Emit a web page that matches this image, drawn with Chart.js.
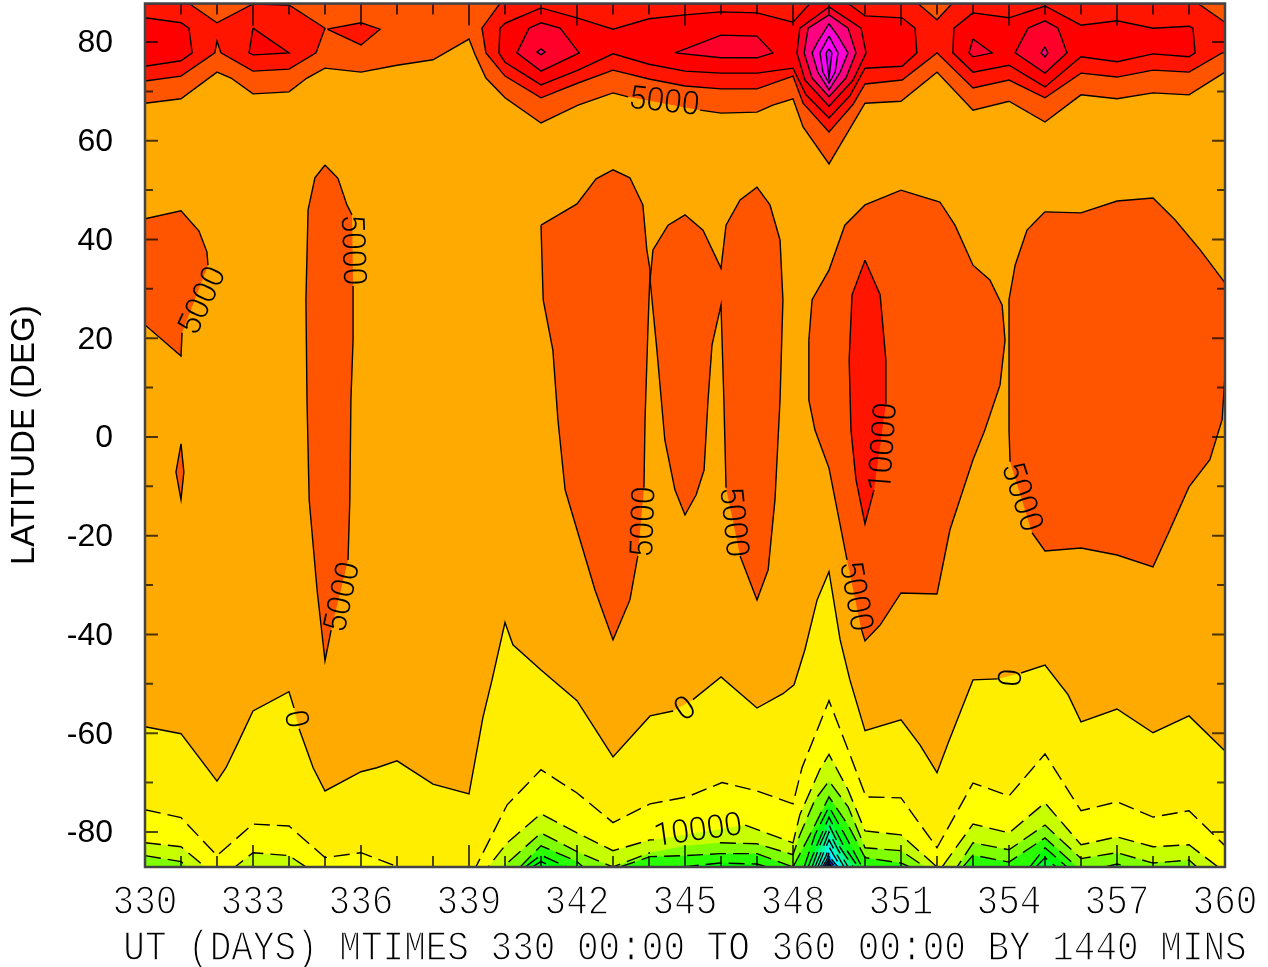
<!DOCTYPE html>
<html lang="en">
<head>
  <title>Latitude vs UT contour</title>
  <meta charset="utf-8">
  <script src="https://cdn.jsdelivr.net/npm/chart.js"></script>
  <style>
    html, body { margin: 0; padding: 0; background: #fff; }
    canvas { display: block; }
  </style>
</head>
<body>
<canvas id="contour-chart" width="1268" height="967"></canvas>
<script>
  // axis values
  const dayMin = 330, dayMax = 360, latMin = -87.1, latMax = 87.8;
  const dayLabels = [330, 333, 336, 339, 342, 345, 348, 351, 354, 357, 360];
  const latLabels = [80, 60, 40, 20, 0, -20, -40, -60, -80];
  const latTicks = [-80, -70, -60, -50, -40, -30, -20, -10, 0, 10, 20, 30, 40, 50, 60, 70, 80];
  const caption = 'UT (DAYS) MTIMES 330 00:00 TO 360 00:00 BY 1440 MINS';
  const latTitle = 'LATITUDE (DEG)';

  // contours, [day, latitude]
  const plotBox = [[330,87.8],[360,87.8],[360,-87.1],[330,-87.1]];
  const north5000 = [[330,67.6],[331,68.5],[332,73.9],[332.39,72.7],[333,69.5],[334,69.9],[334.5,72.7],[335,74.7],[336,73.9],[337,75.3],[338,76.4],[339,80.6],[339.17,77.4],[339.47,72.7],[340,68.7],[341,63.6],[342.03,67.2],[343,69.7],[343.42,68.9],[345.42,66.2],[346,65.6],[347,65.8],[347.44,67.2],[348,68.5],[348.28,62.8],[349,55.3],[350,67.6],[351,68],[352,73.9],[353,66.2],[354,68],[355,63.8],[356,69.3],[357,68.5],[358,69.7],[359,69.3],[360,73.9],[360,87.8],[330,87.8]];
  const redWest = [[330,72.1],[331,73.1],[331.94,77.8],[332,80.2],[332.11,77.8],[333,74.1],[334,74.5],[334.75,77.8],[335,82.8],[334,87.5],[333,87.7],[332,83.9],[331.22,87.8],[330,87.8]];
  const redSpot = [[335.06,82.6],[336,83.9],[336.53,82.6],[336,79.4]];
  const redMid = [[339.86,87.8],[339.36,82.8],[339.47,77.8],[340,73.1],[341,68.7],[342.03,71.7],[343,74.3],[344,72.5],[345,71.1],[346,70.5],[347,70.5],[348,73.1],[348.28,67.6],[349,61.8],[349.67,67.4],[350,71.5],[351.03,72.3],[352,77.8],[353,70.7],[354,72.3],[355,68.7],[356,73.7],[357,72.9],[358,74.3],[359,73.9],[359.92,77.8],[360,77.8],[360,84],[359.25,87.8],[352.42,87.8],[352,84.5],[351.47,87.8]];
  const deepWest = [[330,84.9],[331,83.9],[331.22,82.8],[331.31,77.8],[331,76.2],[330,75.1]];
  const deepTri = [[333,82.8],[334,77.8],[333,77.4],[332.89,77.8]];
  const deepMid = [[340,83.8],[341,86.9],[342,84.9],[343,82.6],[344,84.7],[345,85.5],[346,86.1],[347,85.9],[348,84],[348.47,87.8],[349.53,87.8],[350,85.3],[351.03,84.9],[351.39,82.8],[351.44,77.8],[351.03,75.1],[350,74.7],[349.58,69.1],[349,64.6],[348.36,69.3],[348,74.7],[347,73.7],[346,73.7],[345,74.1],[344,75.5],[343,77.6],[342.03,74.3],[341,71.3],[340,75.9],[339.83,77.8],[339.86,82.8]];
  const deepEast = [[353,85.9],[354,84.9],[355,87.3],[356,83.4],[357,84.3],[358,82.8],[359,83.2],[359.11,82.8],[359.17,77.8],[359,77],[358,77.6],[357,76],[356,77],[355,70.9],[354,75.3],[353,73.9],[352.44,77.8],[352.47,82.8]];
  const crimsonA = [[340.67,82.8],[341,83.9],[341.53,82.8],[342.06,77.8],[341,74.1],[340.33,77.8]];
  const crimsonB = [[344.72,77.8],[346,81.4],[347,81.2],[347.44,77.8],[347,76.8],[346,76.8]];
  const crimsonC = [[353,80.6],[353.53,77.8],[353,77],[352.89,77.8]];
  const crimsonD = [[354.53,82.8],[355,84.3],[355.36,82.8],[355.61,77.8],[355,73.7],[354.17,77.8]];
  const pinkA = [[341,78.6],[341.11,78],[341,77.4],[340.89,78]];
  const pinkD = [[355,79],[355.08,77.8],[355,77],[354.89,77.8]];
  const peakN1 = [[349,87.1],[349.89,82.8],[350.03,77.8],[349.67,72.3],[349,67],[348.33,72.3],[348.11,77.8],[348.19,82.8]];
  const peakN2 = [[349,85.5],[349.53,82.8],[349.75,77.8],[349.47,72.7],[349,68.9],[348.53,72.7],[348.31,77.8],[348.42,82.8]];
  const peakN3 = [[349,83.7],[349.25,81.2],[349.53,77.8],[349.31,73.9],[349,70.3],[348.69,73.9],[348.53,77.8],[348.67,79.8]];
  const peakN4 = [[349,81.2],[349.25,77.8],[349.17,73.9],[349,71.7],[348.83,73.9],[348.75,77.8]];
  const peakN5 = [[349,78.6],[349.08,77.8],[349,72.7],[348.92,77.8]];

  const blobWest = [[330,44.2],[331,45.8],[331.5,41.7],[331.72,37.5],[331.75,34.8],[331.03,21.1],[331,16.4],[330,22.7]];
  const sliver = [[331,-1.4],[331.08,-7.1],[331,-12.7],[330.86,-7.1]];
  const blob336 = [[335,55.1],[335.36,52.4],[335.61,47],[335.75,45],[335.78,30.6],[335.78,19.7],[335.72,7.5],[335.69,-12.7],[335.64,-24.9],[335.17,-39.1],[335,-45.3],[334.78,-31],[334.56,-12.7],[334.5,7.5],[334.47,27.8],[334.53,46],[334.72,52.5]];
  const blob342 = [[341,42.9],[342,47.2],[342.53,52.3],[343,54.1],[343.47,52.5],[343.83,47],[343.94,37.9],[344.03,33.8],[343.97,21.7],[343.89,3.5],[343.86,-10.3],[343.69,-24.1],[343.47,-33],[343,-41.1],[342.5,-31],[342,-18.8],[341.67,-10.7],[341.47,3.5],[341.33,17.6],[341.06,27.8]];
  const blob345 = [[344.03,31.8],[344.11,37.9],[344.53,42.9],[345,45],[345.5,41.9],[346,34.2],[346.14,42.9],[346.53,48],[347,50.6],[347.36,47],[347.64,39.9],[347.72,27.8],[347.64,7.5],[347.5,-12.7],[347.31,-26.9],[347,-33],[346.53,-24.1],[346.14,-10.3],[346.08,7.5],[346,26.7],[345.75,18.6],[345.64,7.5],[345.53,-6.7],[345.31,-11.7],[345,-15.8],[344.72,-10.7],[344.44,-0.6],[344.22,17.6]];
  const blob350 = [[348.44,19.6],[348.53,27.8],[349,33.8],[349.44,42.9],[350,47],[351,50],[352.08,47.6],[352.5,42.9],[353,34.8],[353.47,31.8],[353.81,26.7],[353.89,19.6],[353.75,10.5],[353.33,1.4],[353,-4.6],[352.36,-18.8],[352,-31.8],[351,-31.6],[350.42,-38.1],[350,-41.3],[349.89,-38.7],[349.5,-24.9],[349,-6.3],[348.61,1.4],[348.44,7.5]];
  const core350 = [[350,35.8],[350.42,28.8],[350.58,15.6],[350.58,6.7],[350.25,-10.7],[350,-17.6],[349.75,-8.7],[349.61,1.4],[349.56,15.6],[349.64,28.8]];
  const blob356 = [[355,45.6],[356,45.4],[357,47.8],[358,48.4],[358.61,44],[359.31,37.9],[360,31.2],[360,12.6],[359.92,3.5],[359.58,-4.6],[359,-10.1],[358.47,-18.8],[358,-26.3],[357,-23.9],[356,-22.5],[355,-23.1],[354.64,-19.4],[354.03,-5],[354,1.4],[354,27.8],[354.17,34.8],[354.5,41.9]];

  const south0 = [[330,-58.7],[331,-60.1],[332,-69.7],[332.25,-67],[332.58,-62],[333,-55.5],[334,-51.6],[334.14,-54.9],[334.28,-59.1],[334.36,-60.7],[334.67,-67],[335,-71.7],[336,-67.8],[336.44,-67],[337,-65.6],[338,-70.3],[339,-72.3],[339.39,-56.7],[339.64,-49.2],[340,-37.6],[340.22,-42.1],[341,-47.2],[342,-53.4],[343,-64.8],[344.03,-56.5],[344.67,-55.5],[345.22,-53.2],[346,-48.6],[347,-54.9],[347.72,-52],[348.03,-50.2],[348.33,-43.1],[348.67,-33],[349,-27.3],[349.31,-41.1],[349.58,-49.2],[350,-59.5],[351,-57.3],[351.53,-62.4],[352,-68],[352.31,-62],[353,-49.2],[353.69,-49],[354.33,-47.8],[355,-46.2],[355.64,-52.2],[356,-57.7],[357,-55.1],[358,-59.9],[359,-56.5],[360,-63.6],[360,-87.1],[330,-87.1]];
  const southA = [[330,-75.5],[331,-77.1],[332,-84.8],[333,-78.4],[334,-78.8],[335,-85.2],[336,-84.2],[337.03,-87.1],[339.19,-87.1],[340.06,-74.5],[341,-67.4],[342,-72.1],[343,-78.1],[344.03,-74.3],[345.06,-72.9],[346.03,-70],[347,-71.7],[348,-74.3],[348.25,-67],[349,-53.4],[349.5,-62.8],[350.03,-72.9],[351,-73.1],[352,-83.2],[353,-70.1],[354,-72.7],[355,-64.2],[356,-75.7],[357,-73.9],[358,-77],[359,-75.7],[360,-82.8],[360,-87.1],[330,-87.1]];
  const southB = [[330,-82.2],[331,-83],[331.67,-87.1],[332.5,-87.1],[333,-84.2],[334,-84.8],[334.47,-87.1],[339.53,-87.1],[340.06,-82.2],[341,-76.3],[342,-80.2],[343,-83.8],[344.03,-81.6],[344.14,-81.6],[346.67,-78.6],[348,-82.2],[348.19,-76.5],[348.75,-67.3],[349,-64.3],[349.53,-71.5],[350,-79.8],[351,-80.6],[352,-87.1],[352.14,-87.1],[353,-78.4],[354,-80.2],[355,-74.1],[356,-82.6],[357,-81],[358,-83],[359,-82.6],[359.81,-87.1],[330,-87.1]];
  const southC = [[330,-84.8],[331,-86],[331.17,-87.1],[339.94,-87.1],[341,-80.2],[342,-84],[343,-87.1],[344.03,-84.2],[345,-82.8],[345.97,-82.2],[347,-82.4],[348,-84.6],[348.19,-80.6],[348.61,-73.5],[349,-69.7],[349.53,-74.9],[350,-83.2],[351,-83.8],[351.67,-87.1],[352.56,-87.1],[353,-82.2],[354,-83.6],[355,-78.6],[356,-85.4],[357,-84.2],[358,-86.3],[359,-85.7],[359.22,-87.1],[330,-87.1]];
  const southD1 = [[340.42,-87.1],[341,-82.8],[342,-86],[342.17,-87.1]];
  const southD2 = [[343.19,-87.1],[344.03,-85],[345,-84.8],[345.97,-84.4],[347,-84.4],[348,-87.1]];
  const southD3 = [[352.72,-87.1],[353,-84.7],[354,-86.1],[355,-81.2],[355.89,-87.1]];
  const southD4 = [[356.67,-87.1],[357,-86.5],[357.36,-87.1]];
  const southE1 = [[340.56,-87.1],[341,-84.7],[341.72,-87.1]];
  const southE2 = [[344.94,-87.1],[345.97,-86.3],[347,-86.5],[347.28,-87.1]];
  const southE3 = [[354.58,-87.1],[355,-83.2],[355.61,-87.1]];
  const southF1 = [[340.75,-87.1],[341,-86],[341.33,-87.1]];
  const southF3 = [[354.75,-87.1],[355,-85.2],[355.31,-87.1]];
  const peakS1 = [[348,-87.1],[348.47,-80.6],[349,-72.9],[349.53,-78.6],[350,-85.2],[351,-86.3],[351.25,-87.1]];
  const peakS2 = [[348.31,-87.1],[348.61,-80.6],[349,-74.9],[349.44,-80.6],[349.92,-87.1]];
  const peakS3 = [[348.42,-87.1],[348.67,-82.6],[349,-77],[349.39,-82.6],[349.81,-87.1]];
  const peakS4 = [[348.53,-87.1],[348.75,-82.6],[349,-78.6],[349.31,-83.2],[349.67,-87.1]];
  const peakS5 = [[348.61,-87.1],[348.81,-83.6],[349,-80],[349.25,-83.6],[349.53,-87.1]];
  const peakS6 = [[348.69,-87.1],[348.86,-84],[349,-81.6],[349.19,-84.2],[349.42,-87.1]];
  const peakS7 = [[348.76,-87.1],[348.92,-84.8],[349,-83],[349.14,-84.8],[349.33,-87.1]];
  const peakS8 = [[348.81,-87.1],[348.94,-85.6],[349,-84.2],[349.08,-85.6],[349.25,-87.1]];
  const peakS9 = [[348.86,-87.1],[349,-85.6],[349.17,-87.1]];
  const peakS10 = [[348.92,-87.1],[349,-86.3],[349.1,-87.1]];

  // contour labels sit on the lines, angle in degrees clockwise
  const contourLabels = [
    { day: 344.42, lat: 68.0, text: '5000', angle: 6 },
    { day: 331.58, lat: 27.6, text: '5000', angle: -65 },
    { day: 335.78, lat: 37.9, text: '5000', angle: 88 },
    { day: 335.47, lat: -32.4, text: '5000', angle: -78 },
    { day: 343.84, lat: -17.2, text: '5000', angle: -88 },
    { day: 346.36, lat: -17.2, text: '5000', angle: 84 },
    { day: 349.75, lat: -32.2, text: '5000', angle: 80 },
    { day: 350.5, lat: -2.0, text: '10000', angle: -86 },
    { day: 354.36, lat: -12.1, text: '5000', angle: 72 },
    { day: 334.2, lat: -57.1, text: '0', angle: 80 },
    { day: 345.0, lat: -55.0, text: '0', angle: -35 },
    { day: 354.05, lat: -48.8, text: '0', angle: -85 },
    { day: 345.36, lat: -79.6, text: '10000', angle: -8 }
  ];

  // painter's order, bottom layer first
  const layers = [
    { points: plotBox, color: '#FFAA00', outline: false },
    { points: north5000, color: '#FF5500' },
    { points: redWest, color: '#FF1500' },
    { points: redSpot, color: '#FF1500' },
    { points: redMid, color: '#FF1500' },
    { points: deepWest, color: '#FF0000' },
    { points: deepTri, color: '#FF0000' },
    { points: deepMid, color: '#FF0000' },
    { points: deepEast, color: '#FF0000' },
    { points: crimsonA, color: '#FF002B' },
    { points: crimsonB, color: '#FF002B' },
    { points: crimsonC, color: '#FF002B' },
    { points: crimsonD, color: '#FF002B' },
    { points: pinkA, color: '#FF0080' },
    { points: pinkD, color: '#FF0080' },
    { points: peakN1, color: '#FF002B' },
    { points: peakN2, color: '#FF0080' },
    { points: peakN3, color: '#FF00D5' },
    { points: peakN4, color: '#FF00FF' },
    { points: peakN5, color: '#D500FF' },
    { points: blobWest, color: '#FF5500' },
    { points: sliver, color: '#FF5500' },
    { points: blob336, color: '#FF5500' },
    { points: blob342, color: '#FF5500' },
    { points: blob345, color: '#FF5500' },
    { points: blob350, color: '#FF5500' },
    { points: core350, color: '#FF1500' },
    { points: blob356, color: '#FF5500' },
    { points: south0, color: '#FFEE00' },
    { points: southA, color: '#FFFF00', dashed: true },
    { points: southB, color: '#C8FF00', dashed: true },
    { points: southC, color: '#7FFF00', dashed: true },
    { points: southD1, color: '#2AFF00', dashed: true },
    { points: southD2, color: '#2AFF00', dashed: true },
    { points: southD3, color: '#2AFF00', dashed: true },
    { points: southD4, color: '#2AFF00', dashed: true },
    { points: southE1, color: '#00FF00', dashed: true },
    { points: southE2, color: '#00FF00', dashed: true },
    { points: southE3, color: '#00FF00', dashed: true },
    { points: southF1, color: '#00FF2B', dashed: true },
    { points: southF3, color: '#00FF2B', dashed: true },
    { points: peakS1, color: '#2AFF00', dashed: true },
    { points: peakS2, color: '#00FF15', dashed: true },
    { points: peakS3, color: '#00FF40', dashed: true },
    { points: peakS4, color: '#00FF80', dashed: true },
    { points: peakS5, color: '#00FFAA', dashed: true },
    { points: peakS6, color: '#00FFD5', dashed: true },
    { points: peakS7, color: '#00FFFF', dashed: true },
    { points: peakS8, color: '#0095FF', dashed: true },
    { points: peakS9, color: '#0030FF', dashed: true },
    { points: peakS10, color: '#000080', dashed: true }
  ];

  const labelFont = '300 32px Roboto, "Liberation Sans", sans-serif';
  const monoFont = '30px "Liberation Mono", monospace';

  const closed = (pairs) => [...pairs, pairs[0]].map(([x, y]) => ({ x, y }));

  // a line stops where a contour label sits on it
  const underLabel = (ctx) => {
    const { x: xScale, y: yScale } = ctx.chart.scales;
    const mx = (ctx.p0.x + ctx.p1.x) / 2;
    const my = (ctx.p0.y + ctx.p1.y) / 2;
    return contourLabels.some((l) => {
      const a = l.angle * Math.PI / 180;
      const dx = mx - xScale.getPixelForValue(l.day);
      const dy = my - yScale.getPixelForValue(l.lat);
      const u = dx * Math.cos(a) + dy * Math.sin(a);
      const v = -dx * Math.sin(a) + dy * Math.cos(a);
      return Math.abs(u) < l.text.length * 7 && Math.abs(v) < 15;
    });
  };

  const datasets = [];
  layers.forEach((layer, i) => {
    datasets.push({
      data: closed(layer.points),
      fill: 'shape',
      backgroundColor: layer.color,
      borderWidth: 0,
      borderColor: 'rgba(0,0,0,0)',
      pointRadius: 0,
      order: 2000 - i
    });
    if (layer.outline !== false) {
      datasets.push({
        data: closed(layer.points),
        fill: false,
        borderColor: '#000',
        borderWidth: 1.4,
        borderDash: layer.dashed ? [16, 7] : [],
        pointRadius: 0,
        order: 1000 - i,
        segment: { borderColor: (ctx) => underLabel(ctx) ? 'rgba(0,0,0,0)' : undefined }
      });
    }
  });

  const plotFurniture = {
    id: 'plotFurniture',
    afterDatasetsDraw(chart) {
      const { ctx, chartArea: { left, right, top, bottom }, scales: { x, y } } = chart;
      ctx.save();

      // contour labels
      ctx.fillStyle = '#000';
      ctx.font = labelFont;
      ctx.textAlign = 'center';
      ctx.textBaseline = 'middle';
      contourLabels.forEach((l) => {
        ctx.save();
        ctx.translate(x.getPixelForValue(l.day), y.getPixelForValue(l.lat));
        ctx.rotate(l.angle * Math.PI / 180);
        ctx.fillText(l.text, 0, 2);
        ctx.restore();
      });

      // ticks point inwards on all four sides
      ctx.strokeStyle = 'rgba(0,0,0,0.7)';
      ctx.lineWidth = 2;
      ctx.beginPath();
      x.ticks.forEach((t) => {
        const px = x.getPixelForValue(t.value);
        const len = dayLabels.includes(t.value) ? 22 : 11;
        ctx.moveTo(px, top); ctx.lineTo(px, top + len);
        ctx.moveTo(px, bottom); ctx.lineTo(px, bottom - len);
      });
      y.ticks.forEach((t) => {
        const py = y.getPixelForValue(t.value);
        const len = latLabels.includes(t.value) ? 13 : 8;
        ctx.moveTo(left, py); ctx.lineTo(left + len, py);
        ctx.moveTo(right, py); ctx.lineTo(right - len, py);
      });
      ctx.stroke();

      ctx.strokeStyle = '#444';
      ctx.lineWidth = 2.5;
      ctx.strokeRect(left, top, right - left, bottom - top);
      ctx.restore();
    },
    afterDraw(chart) {
      const { ctx, scales: { x } } = chart;
      // the stroke font is tall and narrow, so the mono face gets stretched,
      // then a white stroke thins the glyphs down
      const stretched = (text, px, baseline) => {
        ctx.save();
        ctx.translate(px, baseline);
        ctx.scale(1.2, 1.4);
        ctx.fillText(text, 0, 0);
        ctx.strokeText(text, 0, 0);
        ctx.restore();
      };
      ctx.save();
      ctx.fillStyle = '#000';
      ctx.strokeStyle = '#fff';
      ctx.lineWidth = 1.0;
      ctx.font = monoFont;
      ctx.textAlign = 'center';
      ctx.textBaseline = 'alphabetic';
      x.ticks.forEach((t) => {
        if (dayLabels.includes(t.value)) stretched(String(t.value), x.getPixelForValue(t.value), 914);
      });
      stretched(caption, 685, 960);
      ctx.restore();
    }
  };

  new Chart(document.getElementById('contour-chart'), {
    type: 'line',
    data: { datasets },
    options: {
      responsive: false,
      animation: false,
      events: [],
      layout: { padding: { top: 3.5, right: 43, left: 0, bottom: 0 } },
      plugins: { legend: { display: false }, tooltip: { enabled: false } },
      scales: {
        x: {
          type: 'linear',
          min: dayMin,
          max: dayMax,
          grid: { display: false },
          border: { display: false },
          ticks: { stepSize: 1, autoSkip: false, maxRotation: 0, display: false },
          afterFit: (scale) => { scale.height = 100; }
        },
        y: {
          min: latMin,
          max: latMax,
          grid: { display: false },
          border: { display: false },
          afterBuildTicks: (scale) => { scale.ticks = latTicks.map((value) => ({ value })); },
          afterFit: (scale) => { scale.width = 145; scale.paddingTop = 0; scale.paddingBottom = 0; },
          title: {
            display: true,
            text: latTitle,
            color: '#000',
            font: { family: '"Liberation Sans", Arial, sans-serif', size: 33 },
            padding: { top: 5, bottom: 0 }
          },
          ticks: {
            autoSkip: false,
            color: '#000',
            padding: 24,
            labelOffset: 1.5,
            font: { family: '"Liberation Sans", Arial, sans-serif', size: 32 },
            callback: (value) => latLabels.includes(value) ? String(value) : ''
          }
        }
      }
    },
    plugins: [plotFurniture]
  });
</script>
</body>
</html>
